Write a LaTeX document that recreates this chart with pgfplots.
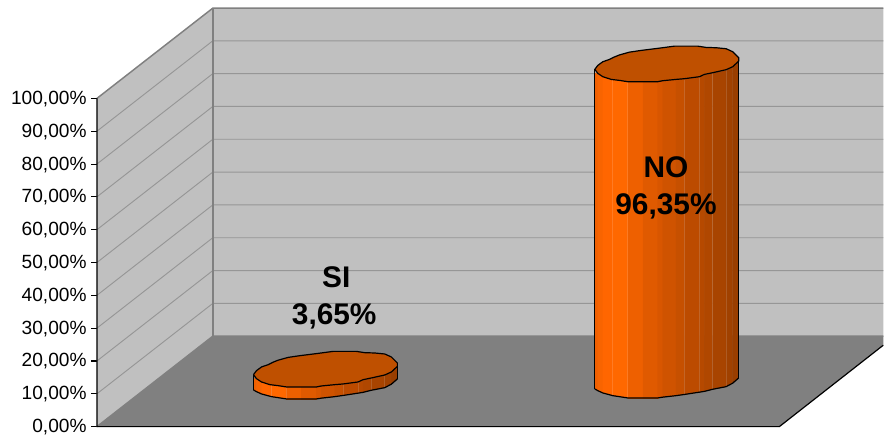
\documentclass[border=0pt]{standalone}
\usepackage{pgfplots}
\usepackage{pgfplotstable}
\usepackage{fontspec}
\setmainfont{Liberation Sans}
\pgfplotsset{compat=1.18}
\definecolor{wall}{HTML}{C0C0C0}
\definecolor{floorc}{HTML}{808080}
\definecolor{gridc}{HTML}{969696}
\definecolor{cyltop}{HTML}{BF5000}
\pgfplotstableread{
dx dy
0 0
3 -4
8 -7.7
14.7 -10
19.7 -12.5
24.7 -14.5
34.7 -17.3
46.4 -19
64.7 -21.3
79.7 -23.3
103 -23.3
111.4 -22
121.4 -21.7
131.4 -20.7
138 -17.7
144 -11.7
144 -8.3
138 -2.7
131.4 0.3
118 3.3
109.7 5
104.7 7.3
89.7 9.3
81.4 10
68 11.3
63 12.3
33 12.3
24.7 11
16.4 10
8 7.3
3 4
0 0
}\ellipseshape
\pgfplotstableread{
dx dy
0 3.3
3 5
8 7.3
18 10
33 12.3
63 12.3
68 11.5
81.4 10
89.7 8.8
104.7 6.5
109.7 5.7
118 3.6
131.4 1
138 -2.5
144 -7.7
}\frontshape
% one facet of a cylinder: dx1 dy1 dx2 dy2 colour x0 value
\newcommand\facet[7]{%
  \pgfmathsetmacro\fxa{#6+#1}\pgfmathsetmacro\fxb{#6+#3}%
  \pgfmathsetmacro\fya{\cb-#2/3.285}\pgfmathsetmacro\fyb{\cb-#4/3.285}%
  \pgfmathsetmacro\fta{\fya+#7}\pgfmathsetmacro\ftb{\fyb+#7}%
  \addplot[fill=#5,draw=#5,line width=0.3pt] coordinates {(\fxa,\fya)(\fxb,\fyb)(\fxb,\ftb)(\fxa,\fta)(\fxa,\fya)};%
}
\newcommand\seam[4]{%
  \pgfmathsetmacro\fxa{#3+#1}\pgfmathsetmacro\fya{\cb-#2/3.285}\pgfmathsetmacro\fta{\fya+#4}%
  \addplot[white,opacity=0.14,line width=0.45pt] coordinates {(\fxa,\fya)(\fxa,\fta)};%
}
\newcommand\cylinder[2]{%
  \facet{0}{3.3}{3}{5}{cF06000}{#1}{#2}
  \facet{3}{5}{8}{7.3}{cF86400}{#1}{#2}
  \facet{8}{7.3}{18}{10}{cFF6600}{#1}{#2}
  \facet{18}{10}{33}{12.3}{cFF6800}{#1}{#2}
  \facet{33}{12.3}{48}{12.3}{cEE6000}{#1}{#2}
  \facet{48}{12.3}{63}{12.3}{cE05A00}{#1}{#2}
  \facet{63}{12.3}{68}{11.5}{cD85600}{#1}{#2}
  \facet{68}{11.5}{81.4}{10}{cCF5300}{#1}{#2}
  \facet{81.4}{10}{89.7}{8.8}{cC65000}{#1}{#2}
  \facet{89.7}{8.8}{104.7}{6.5}{cBC4B00}{#1}{#2}
  \facet{104.7}{6.5}{109.7}{5.7}{cB64900}{#1}{#2}
  \facet{109.7}{5.7}{118}{3.6}{cB04700}{#1}{#2}
  \facet{118}{3.6}{131.4}{1}{cA84400}{#1}{#2}
  \facet{131.4}{1}{138}{-2.5}{cA04100}{#1}{#2}
  \facet{138}{-2.5}{144}{-7.7}{c993E00}{#1}{#2}
  \seam{18}{10}{#1}{#2}
  \seam{33}{12.3}{#1}{#2}
  \seam{89.7}{8.8}{#1}{#2}
  \seam{104.7}{6.5}{#1}{#2}
  \seam{118}{3.6}{#1}{#2}
  \seam{131.4}{1}{#1}{#2}
  \pgfmathsetmacro\lx{#1}\pgfmathsetmacro\rx{#1+144}%
  \pgfmathsetmacro\lb{\cb-3.3/3.285}\pgfmathsetmacro\lt{\cb+#2}%
  \pgfmathsetmacro\rb{\cb+7.7/3.285}\pgfmathsetmacro\rt{\rb+#2}%
  \addplot[black,line width=0.9pt] coordinates {(\lx,\lb)(\lx,\lt)};
  \addplot[black,line width=0.9pt] coordinates {(\rx,\rb)(\rx,\rt)};
  \addplot[black,line width=0.9pt] table[x expr=\thisrow{dx}+#1,y expr=\cb-\thisrow{dy}/3.285]{\frontshape};
  \addplot[fill=cyltop,draw=black,line width=0.9pt] table[x expr=\thisrow{dx}+#1,y expr=\cb+#2-\thisrow{dy}/3.285]{\ellipseshape};
}
\definecolor{cF06000}{HTML}{F06000}\definecolor{cF86400}{HTML}{F86400}
\definecolor{cFF6600}{HTML}{FF6600}\definecolor{cFF6800}{HTML}{FF6800}
\definecolor{cEE6000}{HTML}{EE6000}
\definecolor{cE05A00}{HTML}{E05A00}\definecolor{cD85600}{HTML}{D85600}
\definecolor{cCF5300}{HTML}{CF5300}\definecolor{cC65000}{HTML}{C65000}
\definecolor{cBC4B00}{HTML}{BC4B00}\definecolor{cB64900}{HTML}{B64900}
\definecolor{cB04700}{HTML}{B04700}\definecolor{cA84400}{HTML}{A84400}
\definecolor{cA04100}{HTML}{A04100}\definecolor{c993E00}{HTML}{993E00}
\newcommand\lab{\fontsize{22.4}{24}\selectfont\bfseries}
\begin{document}
\begin{tikzpicture}
\begin{axis}[
  x=0.75pt, y=2.46375pt,
  xmin=97, xmax=884, ymin=-3.35, ymax=129.98,
  clip=false,
  hide x axis,
  axis y line*=left,
  y axis line style={draw=none},
  ytick={0,10,...,100},
  yticklabels={{0,00\%},{10,00\%},{20,00\%},{30,00\%},{40,00\%},{50,00\%},{60,00\%},{70,00\%},{80,00\%},{90,00\%},{100,00\%}},
  yticklabel style={font=\fontsize{14.35}{15}\selectfont,inner sep=0pt,xshift=-3.4pt,yshift=-0.4pt},
  tick align=outside,
  major tick length=4.2pt,
  tick style={black,line width=0.8pt},
  xtick=\empty,
]
\path (axis cs:0,-3.35) rectangle (axis cs:884,129.98);
% walls and floor
\addplot[fill=wall,draw=none] coordinates {(97,0)(97,100)(213,127.5)(213,27.55)(97,0)};
\addplot[fill=wall,draw=none] coordinates {(213,27.55)(213,127.5)(884,127.5)(884,27.55)(213,27.55)};
\addplot[fill=floorc,draw=none] coordinates {(97,0)(213,27.55)(884,27.55)(884,24.8)(780,0)(97,0)};
% gridlines
\addplot[gridc,line width=0.7pt] coordinates {(97,10)(213,37.55)(884,37.55)};
\addplot[gridc,line width=0.7pt] coordinates {(97,20)(213,47.55)(884,47.55)};
\addplot[gridc,line width=0.7pt] coordinates {(97,30)(213,57.55)(884,57.55)};
\addplot[gridc,line width=0.7pt] coordinates {(97,40)(213,67.55)(884,67.55)};
\addplot[gridc,line width=0.7pt] coordinates {(97,50)(213,77.55)(884,77.55)};
\addplot[gridc,line width=0.7pt] coordinates {(97,60)(213,87.55)(884,87.55)};
\addplot[gridc,line width=0.7pt] coordinates {(97,70)(213,97.55)(884,97.55)};
\addplot[gridc,line width=0.7pt] coordinates {(97,80)(213,107.55)(884,107.55)};
\addplot[gridc,line width=0.7pt] coordinates {(97,90)(213,117.55)(884,117.55)};
% edges
\addplot[floorc,line width=1.1pt] coordinates {(97,100)(213,127.5)(884,127.5)};
\addplot[floorc,line width=1.1pt] coordinates {(213,127.5)(213,27.55)};
\addplot[floorc,line width=1.1pt] coordinates {(97,0)(213,27.55)(884,27.55)};
\addplot[black,line width=0.9pt] coordinates {(97,100)(97,0)(780,0)(884,24.8)};
% cylinders
\def\cb{12.18}
\cylinder{253.7}{3.65}
\def\cb{12.48}
\cylinder{595.3}{96.35}
% labels
\node[anchor=base,font=\lab,inner sep=0pt] at (axis cs:336.5,42.5) {SI};
\node[anchor=base,font=\lab,inner sep=0pt] at (axis cs:334.5,31.2) {3,65\%};
\node[anchor=base,font=\lab,inner sep=0pt] at (axis cs:666.5,76) {NO};
\node[anchor=base,font=\lab,inner sep=0pt] at (axis cs:666.5,64.7) {96,35\%};
\end{axis}
\end{tikzpicture}
\end{document}
